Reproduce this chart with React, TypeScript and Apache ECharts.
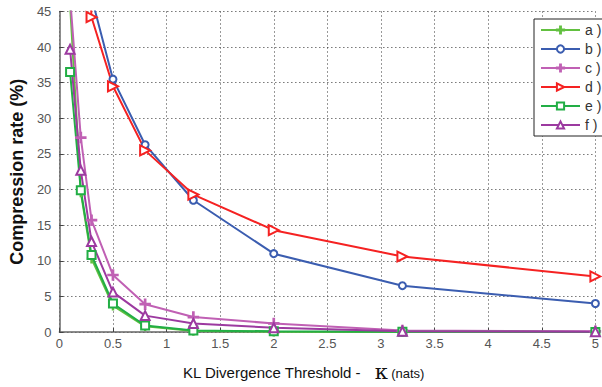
import React, { useEffect, useRef } from "react";
import * as echarts from "echarts";

const xValues = [0.1, 0.2, 0.3, 0.5, 0.8, 1.25, 2, 3.2, 5];
const seriesA = [46, 19.6, 10.3, 3.7, 0.8, 0.15, 0.05, 0, 0];
const seriesB = [95, 75, 47, 35.5, 26.3, 18.5, 11, 6.5, 4.0];
const seriesC = [47, 27.3, 15.7, 8.0, 3.9, 2.1, 1.2, 0.2, 0.1];
const seriesD = [95, 75, 44.2, 34.5, 25.5, 19.3, 14.3, 10.6, 7.8];
const seriesE = [36.5, 19.9, 10.8, 4.0, 0.9, 0.2, 0.1, 0.05, 0];
const seriesF = [39.7, 22.7, 12.7, 5.6, 2.3, 1.2, 0.6, 0.1, 0.05];
const seriesNames = ["a )", "b )", "c )", "d )", "e )", "f )"];

const PLUS = "path://M4.4,0h1.2v4.4h4.4v1.2h-4.4v4.4h-1.2v-4.4h-4.4v-1.2h4.4z";

export default function App() {
  const ref = useRef<HTMLDivElement>(null);
  useEffect(() => {
    if (!ref.current) return;
    const chart = echarts.init(ref.current, undefined, { renderer: "svg" });
    const mk = (name: string, vals: number[], color: string, symbol: string, size: number, rotate = 0) => ({
      name,
      type: "line",
      data: xValues.map((x, i) => [x, vals[i]]),
      symbol,
      symbolSize: size,
      symbolRotate: rotate,
      clip: true,
      lineStyle: { color, width: 2 },
      itemStyle: { color, borderColor: color, borderWidth: 1.5 },
      emphasis: { disabled: true },
    });
    chart.setOption({
      animation: false,
      backgroundColor: "#ffffff",
      grid: { left: 55, right: 3, top: 11.5, bottom: 55 },
      xAxis: {
        type: "value",
        min: 0,
        max: 5,
        interval: 0.5,
        axisLine: { show: true, lineStyle: { color: "#666", width: 1.5 } },
        axisTick: { show: true, inside: true, length: 4, lineStyle: { color: "#444" } },
        axisLabel: { color: "#555", fontSize: 13, fontFamily: "Liberation Sans", margin: 5 },
        splitLine: { show: true, lineStyle: { color: "#333", type: [1, 3], width: 1 } },
      },
      yAxis: {
        type: "value",
        min: 0,
        max: 45,
        interval: 5,
        name: "Compression rate (%)",
        nameLocation: "middle",
        nameGap: 28,
        nameTextStyle: { fontSize: 18, fontWeight: "bold", color: "#111", fontFamily: "Liberation Sans" },
        axisLine: { show: true, lineStyle: { color: "#666", width: 1.5 } },
        axisTick: { show: true, inside: true, length: 4, lineStyle: { color: "#444" } },
        axisLabel: { color: "#555", fontSize: 13, fontFamily: "Liberation Sans", margin: 8 },
        splitLine: { show: true, lineStyle: { color: "#333", type: [1, 3], width: 1 } },
      },
      legend: {
        orient: "vertical",
        left: 534,
        top: 19,
        padding: [4, 6, 4, 6],
        itemGap: 5,
        itemWidth: 39,
        itemHeight: 9,
        backgroundColor: "#fff",
        borderColor: "#222",
        borderWidth: 1,
        borderRadius: 0,
        textStyle: { fontSize: 14, color: "#333", fontFamily: "Liberation Sans" },
        data: seriesNames,
      },
      graphic: [
        {
          type: "text",
          left: 183,
          top: 361,
          style: {
            text: "{a|KL Divergence Threshold -}    {k|κ} {n|(nats)}",
            rich: {
              a: { fontSize: 15, fontFamily: "Liberation Sans", fill: "#111", verticalAlign: "bottom", padding: [0, 0, 2, 0] },
              k: { fontSize: 21, fontFamily: "DejaVu Serif", fill: "#111", verticalAlign: "bottom" },
              n: { fontSize: 13, fontFamily: "Liberation Sans", fill: "#111", verticalAlign: "bottom", padding: [0, 0, 2, 0] },
            },
          },
        },
      ],
      series: [
        mk(seriesNames[0], seriesA, "#62c040", PLUS, 8),
        mk(seriesNames[1], seriesB, "#3b5db0", "emptyCircle", 7),
        mk(seriesNames[2], seriesC, "#c060b4", PLUS, 10),
        mk(seriesNames[3], seriesD, "#f52222", "emptyTriangle", 10, -90),
        mk(seriesNames[4], seriesE, "#22ae45", "emptyRect", 8),
        mk(seriesNames[5], seriesF, "#9c3aa0", "emptyTriangle", 9),
      ],
    });
    return () => chart.dispose();
  }, []);
  return <div ref={ref} style={{ position: "fixed", left: 0, top: 0, width: 602, height: 387 }} />;
}
